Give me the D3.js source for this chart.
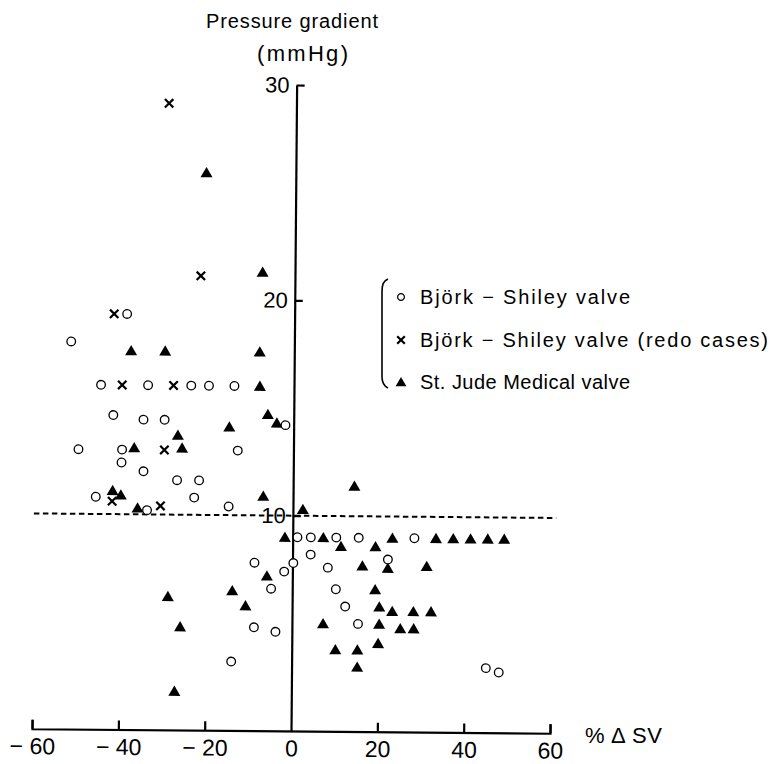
<!DOCTYPE html>
<html>
<head>
<meta charset="utf-8">
<script src="https://cdn.jsdelivr.net/npm/d3@7"></script>
<style>
  body { margin: 0; background: #fff; }
  svg { display: block; font-family: "Liberation Sans", Arial, Helvetica, sans-serif; }
</style>
</head>
<body>
<svg id="chart" width="772" height="764"></svg>
<script>
// values: [% change in SV, pressure gradient (mmHg)]
const bjorkShiley = [
  [-38.8, 19.3], [-51.7, 18.0], [-44.7, 16.0], [-33.8, 16.0], [-23.8, 16.0], [-19.7, 16.0],
  [-13.8, 16.0], [-41.8, 14.6], [-34.8, 14.4], [-29.9, 14.4], [-1.9, 14.2], [-49.8, 13.0],
  [-39.7, 13.0], [-12.9, 13.0], [-39.8, 12.4], [-34.7, 12.0], [-26.9, 11.6], [-21.8, 11.6],
  [-45.7, 10.8], [-22.9, 10.8], [-33.8, 10.2], [-14.9, 10.4], [1.1, 9.0], [4.2, 9.0],
  [10.1, 9.0], [15.3, 9.0], [28.2, 9.0], [4.2, 8.2], [22.1, 8.0], [-8.8, 7.8], [0.2, 7.8],
  [8.2, 7.6], [-1.9, 7.4], [-4.9, 6.6], [10.1, 6.6], [12.3, 5.8], [-8.8, 4.8], [15.3, 5.0],
  [-3.8, 4.6], [-14.0, 3.2], [45.0, 3.0], [48.0, 2.8]
];
const bjorkRedo = [
  [-29.5, 29.1], [-21.8, 21.1], [-41.8, 19.3], [-39.8, 16.0], [-27.9, 16.0], [-29.9, 13.0],
  [-41.9, 10.6], [-30.7, 10.4]
];
const stJude = [
  [-20.7, 25.9], [-7.5, 21.3], [-37.8, 17.6], [-29.9, 17.6], [-8.0, 17.6], [-7.9, 16.0],
  [-6.0, 14.7], [-3.9, 14.3], [-14.9, 14.1], [-26.8, 13.7], [-36.9, 13.1], [-25.8, 13.1],
  [-41.8, 11.1], [-39.9, 10.9], [-6.9, 10.9], [-36.0, 10.3], [14.2, 11.4], [2.3, 10.3],
  [-1.8, 9.0], [7.1, 9.0], [23.1, 9.0], [33.2, 9.0], [37.2, 9.0], [41.2, 9.0], [45.2, 9.0],
  [49.0, 9.0], [11.2, 8.6], [19.2, 8.6], [16.2, 7.7], [22.1, 7.6], [31.1, 7.7], [-5.9, 7.2],
  [19.2, 6.6], [-13.9, 6.5], [-28.8, 6.2], [-10.8, 5.8], [20.2, 5.8], [23.2, 5.6], [28.1, 5.6],
  [32.2, 5.6], [7.2, 5.0], [20.2, 5.0], [25.1, 4.8], [28.2, 4.8], [-25.9, 4.8], [10.1, 3.8],
  [15.2, 3.8], [20.0, 4.1], [15.2, 3.0], [-27.1, 1.8]
];
const xTicks = [-60, -40, -20, 0, 20, 40, 60];
const yTicks = [10, 20, 30];
const cutoff = 10;
const legendLabels = [
  "Björk − Shiley valve",
  "Björk − Shiley valve (redo cases)",
  "St. Jude Medical valve"
];

const svg = d3.select("#chart");
svg.append("rect").attr("width", 772).attr("height", 764).attr("fill", "#fff");

const x = d3.scaleLinear().domain([-60, 60]).range([32, 550]);
const y = d3.scaleLinear().domain([0, 30]).range([731, 85]);

const circlePath = "M4.3,0A4.3,4.3 0 1,1 -4.3,0A4.3,4.3 0 1,1 4.3,0Z";
const trianglePath = "M0,-5.6L6,4.7L-6,4.7Z";
const crossPath = "M-4.2,-4.2L4.2,4.2M-4.2,4.2L4.2,-4.2";

// the scanned page is tilted by about half a degree
const plot = svg
  .append("g")
  .attr("transform", `rotate(0.5, ${x(0)}, ${y(0)})`);

const xAxis = plot
  .append("g")
  .attr("transform", `translate(0,${y(0)})`)
  .call(
    d3.axisBottom(x)
      .tickValues(xTicks)
      .tickSize(-9)
      .tickPadding(9)
      .tickFormat((d) => (d < 0 ? "− " + Math.abs(d) : d))
  );

const yAxis = plot
  .append("g")
  .attr("transform", `translate(${x(0)},0)`)
  .call(
    d3.axisLeft(y)
      .tickValues(yTicks)
      .tickSize(-8)
      .tickSizeOuter(0)
      .tickPadding(7)
  );

[xAxis, yAxis].forEach((ax) => {
  ax.attr("font-family", null).attr("font-size", null);
  ax.selectAll("path, line").attr("stroke", "#000").attr("stroke-width", 2.2);
  ax.selectAll("text").attr("fill", "#000");
});
xAxis.selectAll("text").style("font-size", "23px");
xAxis.selectAll(".tick").filter((d) => d === 0).select("line").remove();
yAxis.selectAll("text").style("font-size", "22px");

plot
  .append("line")
  .attr("x1", x(-60))
  .attr("x2", x(61))
  .attr("y1", y(cutoff))
  .attr("y2", y(cutoff))
  .attr("stroke", "#000")
  .attr("stroke-width", 2)
  .attr("stroke-dasharray", "5.5,3.5");

plot
  .append("g")
  .selectAll("path")
  .data(stJude)
  .enter()
  .append("path")
  .attr("d", trianglePath)
  .attr("transform", (d) => `translate(${x(d[0])},${y(d[1])})`)
  .attr("fill", "#000");

plot
  .append("g")
  .selectAll("path")
  .data(bjorkShiley)
  .enter()
  .append("path")
  .attr("d", circlePath)
  .attr("transform", (d) => `translate(${x(d[0])},${y(d[1])})`)
  .attr("fill", "#fff")
  .attr("stroke", "#000")
  .attr("stroke-width", 1.3);

plot
  .append("g")
  .selectAll("path")
  .data(bjorkRedo)
  .enter()
  .append("path")
  .attr("d", crossPath)
  .attr("transform", (d) => `translate(${x(d[0])},${y(d[1])})`)
  .attr("fill", "none")
  .attr("stroke", "#000")
  .attr("stroke-width", 2.2);

// axis titles
svg
  .append("text")
  .attr("x", 206)
  .attr("y", 28)
  .attr("textLength", 172)
  .attr("lengthAdjust", "spacing")
  .style("font-size", "20px")
  .text("Pressure gradient");

svg
  .append("text")
  .attr("x", 257)
  .attr("y", 61)
  .attr("textLength", 91)
  .attr("lengthAdjust", "spacing")
  .style("font-size", "22px")
  .text("(mmHg)");

svg
  .append("text")
  .attr("x", 585)
  .attr("y", 743)
  .attr("textLength", 77)
  .attr("lengthAdjust", "spacing")
  .style("font-size", "22px")
  .text("% Δ SV");

// legend with its brace
svg
  .append("path")
  .attr("d", "M388,279C383,281 382,285 382,292L382,377C382,383 384,386 388,388")
  .attr("fill", "none")
  .attr("stroke", "#000")
  .attr("stroke-width", 1.6);

const legendRows = [
  { y: 297, mark: "M3.4,0A3.4,3.4 0 1,1 -3.4,0A3.4,3.4 0 1,1 3.4,0Z", fill: "#fff", stroke: 1.2, end: 630 },
  { y: 340, mark: "M-3.8,-3.8L3.8,3.8M-3.8,3.8L3.8,-3.8", fill: "none", stroke: 2.2, end: 768 },
  { y: 382, mark: "M0,-5L5.4,4.2L-5.4,4.2Z", fill: "#000", stroke: 0, end: 630 }
];

const legend = svg
  .append("g")
  .selectAll("g")
  .data(legendRows)
  .enter()
  .append("g")
  .attr("transform", (d) => `translate(0,${d.y})`);

legend
  .append("path")
  .attr("d", (d) => d.mark)
  .attr("transform", "translate(401,0)")
  .attr("fill", (d) => d.fill)
  .attr("stroke", "#000")
  .attr("stroke-width", (d) => d.stroke);

legend
  .append("text")
  .attr("x", 420)
  .attr("dy", "0.36em")
  .attr("textLength", (d) => d.end - 420)
  .attr("lengthAdjust", "spacing")
  .style("font-size", "20px")
  .text((d, i) => legendLabels[i]);
</script>
</body>
</html>
